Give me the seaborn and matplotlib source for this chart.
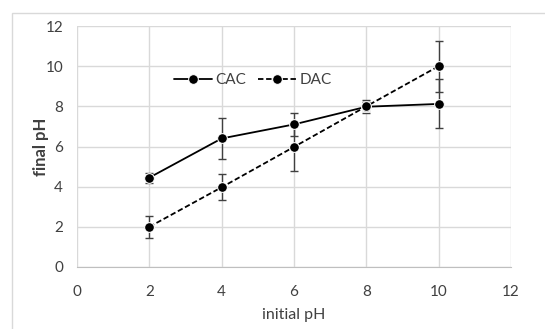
import numpy as np
import pandas as pd
import matplotlib
matplotlib.use("Agg")
import matplotlib.pyplot as plt
import seaborn as sns
from matplotlib.patches import Rectangle

initial_ph = [2, 4, 6, 8, 10]
cac_final = [4.45, 6.4, 7.1, 7.98, 8.12]
cac_err = [0.25, 1.0, 0.58, 0.33, 1.22]
dac_final = [2.0, 3.97, 5.98, 8.0, 10.0]
dac_err = [0.56, 0.65, 1.2, 0.2, 1.27]

sns.set_style("white")
plt.rcParams['font.family'] = ['Lato', 'DejaVu Sans']

df = pd.DataFrame({
    'initial pH': initial_ph * 2,
    'final pH': cac_final + dac_final,
    'series': ['CAC'] * 5 + ['DAC'] * 5,
})

fig = plt.figure(figsize=(5.45, 3.29), dpi=100)
fig.patches.append(Rectangle((12 / 545, -0.1), 1.2, 1 - 13 / 329 + 0.1,
                             transform=fig.transFigure, fill=False,
                             edgecolor='#d9d9d9', linewidth=1.0))
ax = fig.add_axes([77 / 545, 1 - 267 / 329, 434 / 545, 241 / 329])

sns.lineplot(data=df, x='initial pH', y='final pH', style='series',
             dashes={'CAC': '', 'DAC': (3, 1.5)}, markers={'CAC': 'o', 'DAC': 'o'},
             color='black', markersize=7, linewidth=1.3, ax=ax, legend=True)

ax.errorbar(initial_ph, cac_final, yerr=cac_err, fmt='none', ecolor='#404040',
            elinewidth=1, capsize=3, capthick=1, zorder=1)
ax.errorbar(initial_ph, dac_final, yerr=dac_err, fmt='none', ecolor='#404040',
            elinewidth=1, capsize=3, capthick=1, zorder=1)

ax.set_xlim(0, 12)
ax.set_ylim(0, 12)
ax.set_xticks(range(0, 13, 2))
ax.set_yticks(range(0, 13, 2))
ax.grid(True, color='#d9d9d9', linewidth=1)
ax.set_axisbelow(True)
for s in ['top', 'right', 'left']:
    ax.spines[s].set_visible(False)
ax.spines['bottom'].set_color('#bfbfbf')
ax.tick_params(axis='both', length=0, labelsize=11, colors='#404040', pad=13)
ax.tick_params(axis='y', pad=10)

ax.set_xlabel('initial pH', fontsize=11.5, color='#404040')
ax.set_ylabel('final pH', fontsize=12, fontweight='bold', color='#404040')
ax.xaxis.set_label_coords(0.5, -0.172)
ax.yaxis.set_label_coords(-0.064, 0.5)

leg = ax.legend(loc='center', bbox_to_anchor=(0.405, 0.775), ncol=2, frameon=False,
                fontsize=11, handlelength=2.5, columnspacing=0.8, handletextpad=0.2)
for t in leg.get_texts():
    t.set_color('#404040')

fig.savefig('out.png', dpi=100)
